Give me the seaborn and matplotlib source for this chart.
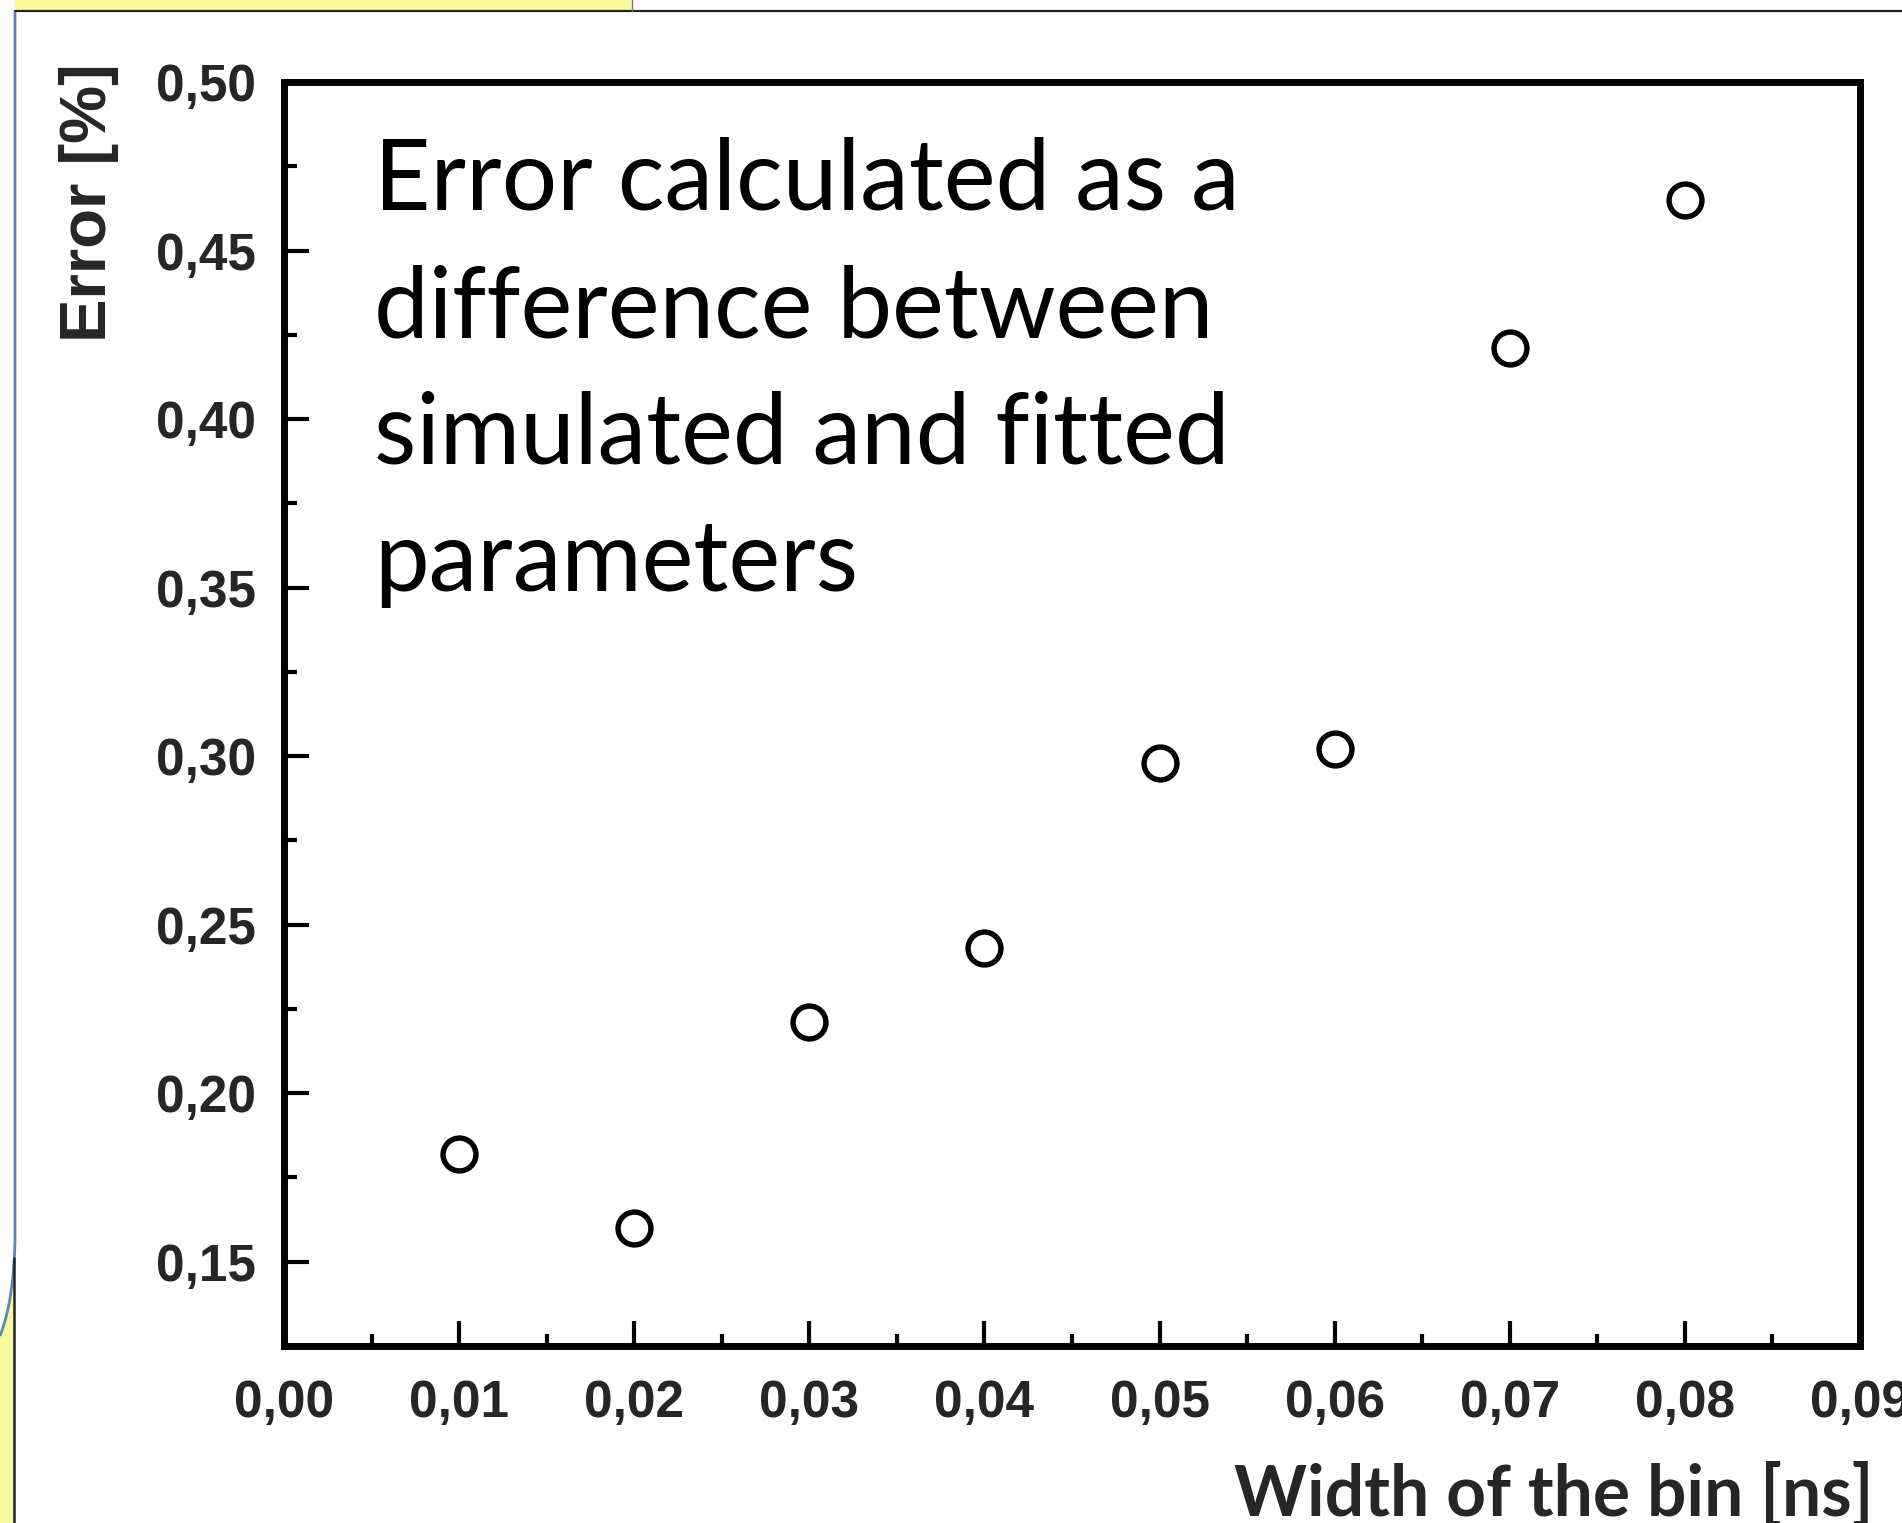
import numpy as np
import pandas as pd
import matplotlib
matplotlib.use("Agg")
import matplotlib.pyplot as plt
import seaborn as sns
from matplotlib.ticker import MultipleLocator
from matplotlib.patches import Rectangle, Polygon, PathPatch
from matplotlib.lines import Line2D
from matplotlib.path import Path

# ---------------- data ----------------
bin_width = [0.01, 0.02, 0.03, 0.04, 0.05, 0.06, 0.07, 0.08]
error_pct = [0.182, 0.160, 0.221, 0.243, 0.298, 0.302, 0.421, 0.465]
x_ticks = [0.00, 0.01, 0.02, 0.03, 0.04, 0.05, 0.06, 0.07, 0.08, 0.09]
y_ticks = [0.15, 0.20, 0.25, 0.30, 0.35, 0.40, 0.45, 0.50]
x_label = "Width of the bin [ns]"
y_label = "Error [%]"
annotation_lines = ["Error calculated as a", "difference between",
                    "simulated and fitted", "parameters"]

df = pd.DataFrame({"bin_width": bin_width, "error": error_pct})

# ---------------- style ----------------
sns.set_theme(style="white")
plt.rcParams["font.family"] = ["Liberation Sans", "DejaVu Sans"]

W, H = 1902, 1523
fig = plt.figure(figsize=(W / 100, H / 100), dpi=100)
fig.patch.set_facecolor("white")

def fx(px):
    return px / W

def fy(py):
    return 1 - py / H

# ---------------- slide decoration ----------------
yellow = "#F7F79C"
fig.add_artist(Rectangle((fx(15), fy(12)), fx(632) - fx(15), fy(0) - fy(12),
                         transform=fig.transFigure, facecolor=yellow,
                         edgecolor="none", zorder=0))
fig.add_artist(Line2D([fx(15), fx(1902)], [fy(11), fy(11)], transform=fig.transFigure,
                      color="#222222", lw=1.6, zorder=1))
fig.add_artist(Line2D([fx(632), fx(632)], [fy(0), fy(11)], transform=fig.transFigure,
                      color="#777777", lw=1.0, zorder=1))
verts = [(fx(15), fy(12)), (fx(15), fy(1240)), (fx(14), fy(1300)), (fx(0), fy(1336))]
codes = [Path.MOVETO, Path.LINETO, Path.CURVE3, Path.CURVE3]
ts = np.linspace(0, 1, 20)
curve_pts = [((1 - t) ** 2 * 15 + 2 * (1 - t) * t * 14 + t ** 2 * 0,
              (1 - t) ** 2 * 1240 + 2 * (1 - t) * t * 1300 + t ** 2 * 1336) for t in ts]
poly = [(fx(x), fy(y)) for x, y in curve_pts if x <= 14.5] + [(fx(0), fy(1523)), (fx(14), fy(1523))]
fig.add_artist(Polygon(poly, closed=True, transform=fig.transFigure,
                       facecolor=yellow, edgecolor="none", zorder=0))
fig.add_artist(PathPatch(Path(verts, codes), transform=fig.transFigure,
                         facecolor="none", edgecolor="#5A86BA", lw=2.0, zorder=1))
fig.add_artist(Line2D([fx(14), fx(14)], [fy(1258), fy(1523)], transform=fig.transFigure,
                      color="#222222", lw=1.8, zorder=1))

# ---------------- axes ----------------
ax = fig.add_axes([fx(284), fy(1346), fx(1860) - fx(284), fy(82) - fy(1346)])
ax.set_facecolor("white")

sns.scatterplot(data=df, x="bin_width", y="error", ax=ax, marker="o", s=560,
                facecolor="white", edgecolor="black", linewidth=3.9, zorder=5,
                legend=False)

ax.set_xlim(0.0, 0.09)
ax.set_ylim(0.125, 0.50)

def comma(v):
    return f"{v:.2f}".replace(".", ",")

ax.set_xticks(x_ticks, labels=[comma(v) for v in x_ticks],
              fontsize=37, fontweight="bold", family="Liberation Sans")
ax.set_yticks(y_ticks, labels=[comma(v) for v in y_ticks],
              fontsize=37, fontweight="bold", family="Liberation Sans")
ax.xaxis.set_minor_locator(MultipleLocator(0.005))
ax.yaxis.set_minor_locator(MultipleLocator(0.025))

ax.tick_params(which="both", direction="in", top=False, right=False,
               bottom=True, left=True, color="black", width=3.0)
ax.tick_params(which="major", length=18)
ax.tick_params(which="minor", length=9)
ax.tick_params(axis="y", which="major", pad=20)
ax.tick_params(axis="x", which="major", pad=24)

for sp in ax.spines.values():
    sp.set_visible(True)
    sp.set_linewidth(5.0)
    sp.set_color("black")

ax.set_xlabel(x_label, fontsize=52, fontweight="bold", family=["Lato", "DejaVu Sans"],
              ha="right", va="baseline")
ax.xaxis.set_label_coords((1874 - 284) / (1860 - 284), (1346 - 1516) / (1346 - 82))

ax.set_ylabel(y_label, fontsize=47, fontweight="bold", family="Liberation Sans",
              rotation=90, rotation_mode="anchor", ha="right", va="center")
ax.yaxis.set_label_coords((89 - 284) / (1860 - 284), (1346 - 63) / (1346 - 82))

ann_texts = []
for i, line in enumerate(annotation_lines):
    t = fig.text(fx(374), fy(210 + 127 * i), line, fontsize=64,
                 family=["Lato", "DejaVu Sans"], ha="left", va="baseline",
                 color="black", zorder=10)
    ann_texts.append(t)

# fit font sizes to the widths measured in the reference
fig.canvas.draw()
r = fig.canvas.get_renderer()
w0 = ann_texts[0].get_window_extent(r).width
scale = 866.0 / w0
for t in ann_texts:
    t.set_fontsize(64 * scale)
xl = ax.xaxis.label
wl = xl.get_window_extent(r).width
xl.set_fontsize(52 * 639.0 / wl)

fig.savefig("out.png", dpi=100, facecolor="white")
